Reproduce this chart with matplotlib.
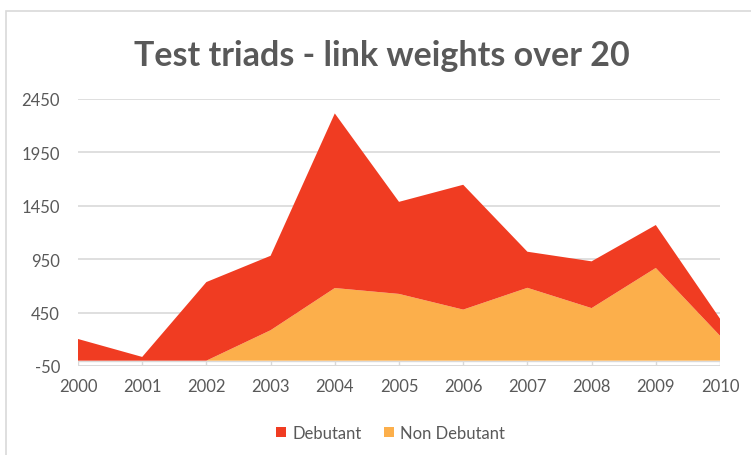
import numpy as np
import matplotlib
matplotlib.use('Agg')
from matplotlib import pyplot as plt
from matplotlib.patches import Rectangle, Patch

years = [2000, 2001, 2002, 2003, 2004, 2005, 2006, 2007, 2008, 2009, 2010]
non_debutant = [0, 0, 0, 285, 680, 625, 478, 682, 492, 868, 233]
debutant = [203, 35, 736, 697, 1635, 862, 1169, 338, 438, 402, 160]
y_ticks = [-50, 450, 950, 1450, 1950, 2450]

red = '#F03C22'
orange = '#FCAF4B'
grid_col = '#D9D9D9'
text_col = '#595959'

plt.rcParams['font.family'] = ['Lato', 'DejaVu Sans']
plt.rcParams['axes.unicode_minus'] = False

fig = plt.figure(figsize=(7.51, 4.56), dpi=100)
ax = fig.add_axes([78/751, 1 - 367/456, (720 - 78)/751, (367 - 100)/456])

# outer chart frame
fig.patches.append(Rectangle((6/751, -0.1), 1.2, 1.1 - 12/456, transform=fig.transFigure,
                             facecolor='none', edgecolor=grid_col, linewidth=1.2))

ax.stackplot(years, non_debutant, debutant, colors=[orange, red], linewidth=0, zorder=2)

ax.set_xlim(2000, 2010)
ax.set_ylim(-50, 2450)
ax.set_yticks(y_ticks)
ax.set_xticks(years)
ax.grid(axis='y', color=grid_col, linewidth=1.2, zorder=0)
ax.set_axisbelow(True)

# thin band between -50 and 0 with category separators
ax.axhline(0, color=grid_col, linewidth=1.0, zorder=1)
ax.axhline(-50, color=grid_col, linewidth=1.2, zorder=1)
ax.vlines(years, -50, 0, color=grid_col, linewidth=1.0, zorder=1)

for s in ax.spines.values():
    s.set_visible(False)
ax.tick_params(length=0, colors=text_col, labelsize=12)
ax.tick_params(axis='x', pad=9)
ax.tick_params(axis='y', pad=13)

fig.text(382/751, 1 - 66/456, 'Test triads - link weights over 20', ha='center', va='baseline',
         fontsize=24.5, fontweight='bold', color=text_col)

handles = [Patch(facecolor=red), Patch(facecolor=orange)]
fig.legend(handles, ['Debutant', 'Non Debutant'], loc='center', bbox_to_anchor=(0.52, 1 - 434/456),
           ncol=2, frameon=False, fontsize=12, labelcolor=text_col, handlelength=0.6,
           handleheight=0.6, handletextpad=0.4, columnspacing=1.3)

fig.savefig('out.png', dpi=100)
